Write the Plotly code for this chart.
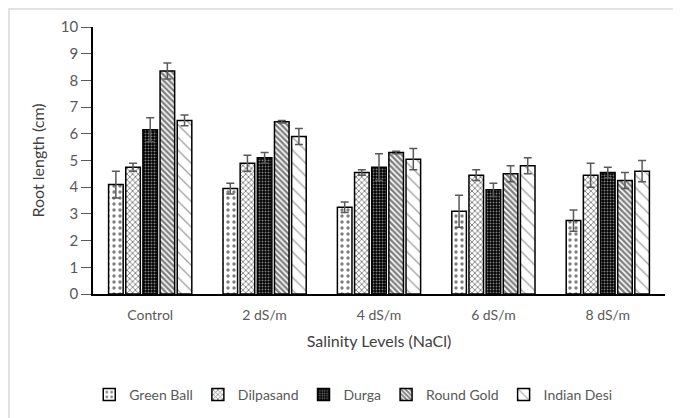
import plotly.graph_objects as go

categories = ["Control", "2 dS/m", "4 dS/m", "6 dS/m", "8 dS/m"]
varieties = ["Green Ball", "Dilpasand", "Durga", "Round Gold", "Indian Desi"]

green_ball = [4.1, 3.95, 3.25, 3.1, 2.75]
green_ball_err = [0.5, 0.2, 0.2, 0.6, 0.4]
dilpasand = [4.75, 4.9, 4.55, 4.45, 4.45]
dilpasand_err = [0.15, 0.3, 0.1, 0.2, 0.45]
durga = [6.15, 5.1, 4.75, 3.9, 4.55]
durga_err = [0.45, 0.2, 0.5, 0.25, 0.2]
round_gold = [8.35, 6.45, 5.3, 4.5, 4.25]
round_gold_err = [0.3, 0.05, 0.05, 0.3, 0.3]
indian_desi = [6.5, 5.9, 5.05, 4.8, 4.6]
indian_desi_err = [0.2, 0.3, 0.4, 0.3, 0.4]

values = [green_ball, dilpasand, durga, round_gold, indian_desi]
errors = [green_ball_err, dilpasand_err, durga_err, round_gold_err, indian_desi_err]

patterns = [
    dict(shape=".", fgcolor="black", bgcolor="white", size=6, solidity=0.25),
    dict(shape="x", fgcolor="black", bgcolor="white", size=4, solidity=0.4),
    dict(shape=".", fgcolor="white", bgcolor="black", size=3, solidity=0.35),
    dict(shape="\\", fgcolor="black", bgcolor="white", size=4, solidity=0.6),
    dict(shape="\\", fgcolor="#444", bgcolor="white", size=9, solidity=0.15),
]

FONT = "Lato, 'Open Sans', sans-serif"
fig = go.Figure()
for name, v, e, p in zip(varieties, values, errors, patterns):
    fig.add_trace(go.Bar(
        name=name, x=categories, y=v,
        marker=dict(color="white", line=dict(color="black", width=1.5), pattern=p),
        error_y=dict(type="data", array=e, visible=True, color="#595959", thickness=1.5, width=4),
    ))

# page body has an 8px margin; margins compensate so the plot sits where the reference's does
fig.update_layout(
    width=681, height=418,
    barmode="group", bargap=0.25, bargroupgap=0.15,
    plot_bgcolor="white", paper_bgcolor="white",
    margin=dict(l=85, r=24, t=19, b=132, autoexpand=False),
    font=dict(family=FONT, size=14, color="#595959"),
    xaxis=dict(
        showline=True, linecolor="black", linewidth=1.5, automargin=False,
        ticks="outside", ticklen=7, tickcolor="rgba(0,0,0,0)", showgrid=False,
        title=dict(text="Salinity Levels (NaCl)", font=dict(size=16, color="#404040"), standoff=14),
        tickfont=dict(size=14, color="#595959"),
    ),
    yaxis=dict(
        range=[0, 10], dtick=1, showline=True, linecolor="black", linewidth=1.5, automargin=False,
        ticks="outside", ticklen=10, tickcolor="#595959", showgrid=False,
        title=dict(text="Root length (cm)", font=dict(size=16, color="#404040"), standoff=12),
        tickfont=dict(size=15, color="#595959"),
    ),
    legend=dict(
        orientation="h", x=0.455, xanchor="center", y=-0.378, yanchor="middle",
        font=dict(size=14, color="#595959"), itemwidth=30, traceorder="normal",
    ),
    shapes=[dict(
        type="rect", xref="paper", yref="paper",
        x0=(9 - 93) / 572, x1=(700 - 93) / 572,
        y0=(294 - 440) / 267, y1=(294 - 9) / 267,
        line=dict(color="#d9d9d9", width=1.5), fillcolor="rgba(0,0,0,0)", layer="below",
    )],
)

fig.write_html("out.html")
